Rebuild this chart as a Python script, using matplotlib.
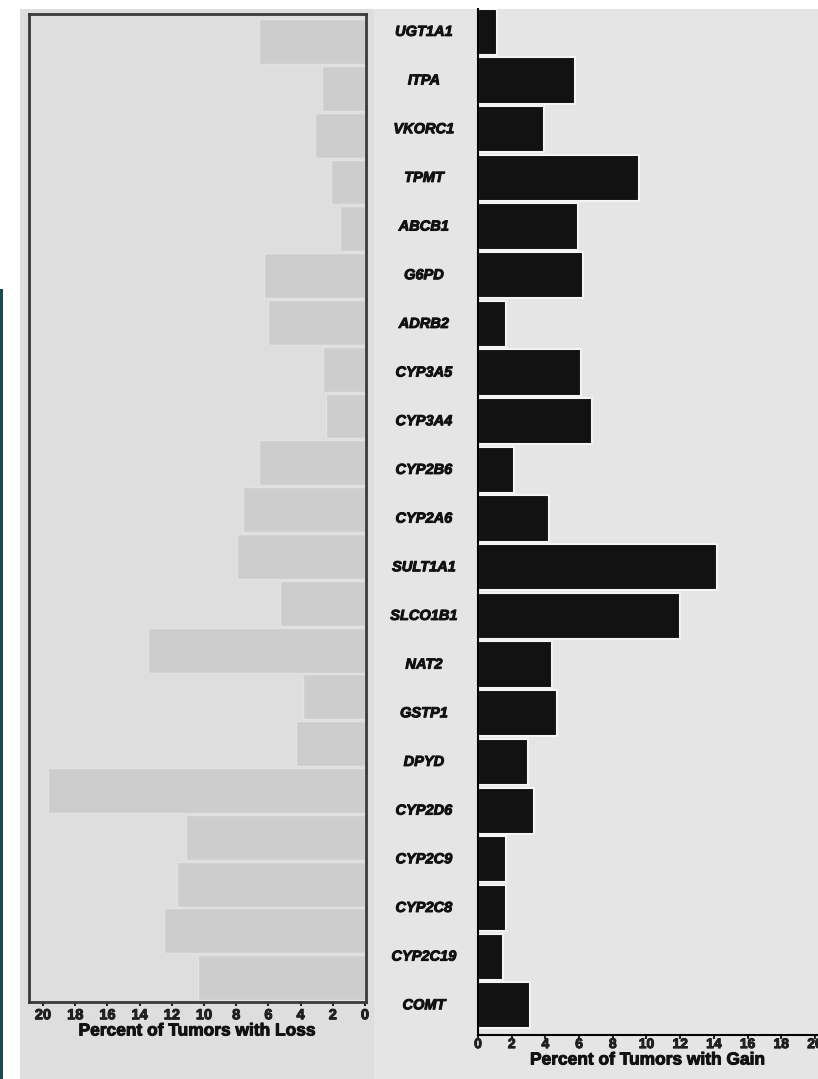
import matplotlib.pyplot as plt
import matplotlib.patheffects as pe
from matplotlib.patches import Rectangle
from matplotlib.transforms import blended_transform_factory

plt.rcParams["font.family"] = ["Liberation Sans", "DejaVu Sans"]

genes = ["UGT1A1", "ITPA", "VKORC1", "TPMT", "ABCB1", "G6PD", "ADRB2",
         "CYP3A5", "CYP3A4", "CYP2B6", "CYP2A6", "SULT1A1", "SLCO1B1", "NAT2",
         "GSTP1", "DPYD", "CYP2D6", "CYP2C9", "CYP2C8", "CYP2C19", "COMT"]
loss_pct = [6.6, 2.7, 3.1, 2.1, 1.55, 6.3, 6.0, 2.6, 2.4, 6.6, 7.6,
            7.95, 5.3, 13.5, 3.85, 4.3, 19.7, 11.1, 11.7, 12.5, 10.4]
gain_pct = [1.1, 5.75, 3.9, 9.55, 5.95, 6.25, 1.65, 6.1, 6.75, 2.15, 4.2,
            14.2, 12.0, 4.4, 4.7, 2.95, 3.3, 1.65, 1.65, 1.5, 3.1]
tick_vals = list(range(0, 21, 2))

W, H = 818, 1079
fig = plt.figure(figsize=(W / 100, H / 100), dpi=100)
fig.patch.set_facecolor("white")

# thicken the bold glyphs a little
heavy = [pe.withStroke(linewidth=0.7, foreground="#111111")]


def box(x0, y0, x1, y1):
    # pixel box (top-left origin) -> figure fraction rect
    return [x0 / W, 1 - y1 / H, (x1 - x0) / W, (y1 - y0) / H]


# panel backgrounds and the thin strip at the left edge
for (x0, y0, x1, y1), col in [((20, 9, 374, H), "#dedede"),
                              ((374, 9, W, H), "#e5e5e5"),
                              ((0, 289, 3, H), "#1d4b52")]:
    l, b, w, h = box(x0, y0, x1, y1)
    fig.patches.append(Rectangle((l, b), w, h, transform=fig.transFigure,
                                 facecolor=col, edgecolor="none", zorder=-10))

rows = list(range(len(genes)))


def style_ticks(ax, pad, tick_size, xlabel, label_y):
    ax.set_yticks([])
    ax.set_xticks(tick_vals)
    ax.set_xticklabels([str(v) for v in tick_vals], fontsize=tick_size,
                       fontweight="bold", color="#111111")
    for t in ax.get_xticklabels():
        t.set_path_effects(heavy)
    ax.tick_params(axis="x", direction="out", length=3, width=1.5,
                   pad=pad, colors="#222222")
    ax.set_xlabel(xlabel, fontsize=12.5, fontweight="bold", color="#111111",
                  path_effects=heavy)
    ax.xaxis.set_label_coords(0.5, label_y)
    ax.xaxis.label.set_verticalalignment("center")


# loss panel
ax_loss = fig.add_axes(box(29, 14, 366, 1002))
ax_loss.set_facecolor("#dedede")
ax_loss.barh(rows, loss_pct, height=0.96, color="#cdcdcd",
             edgecolor="#e2e2e2", linewidth=1.0)
ax_loss.set_xlim(20.87, -0.06)
ax_loss.set_ylim(20.52, -0.59)
style_ticks(ax_loss, 1.5, 10.5, "Percent of Tumors with Loss", -29 / 988)
for sp in ax_loss.spines.values():
    sp.set_color("#3a3a3a")
    sp.set_linewidth(2)

# gain panel
ax_gain = fig.add_axes(box(478, 9, W, 1035))
ax_gain.set_facecolor("#e5e5e5")
ax_gain.barh(rows, gain_pct, height=0.95, color="#121212",
             edgecolor="#f4f4f4", linewidth=1.5)
ax_gain.set_xlim(0, 20.18)
ax_gain.set_ylim(20.61, -0.47)
style_ticks(ax_gain, -1.5, 10, "Percent of Tumors with Gain", -25 / 1026)
ax_gain.spines["top"].set_visible(False)
ax_gain.spines["right"].set_visible(False)
ax_gain.spines["left"].set_linewidth(1.5)
ax_gain.spines["bottom"].set_linewidth(1.5)

# gene names in the gap between the two panels
trans = blended_transform_factory(fig.transFigure, ax_gain.transData)
for i, g in enumerate(genes):
    ax_gain.text(424 / W, i, g, transform=trans, ha="center", va="center",
                 fontsize=10.5, fontweight="bold", fontstyle="italic",
                 color="#111111", clip_on=False, path_effects=heavy)

fig.savefig("out.png", dpi=100, facecolor=fig.get_facecolor())
